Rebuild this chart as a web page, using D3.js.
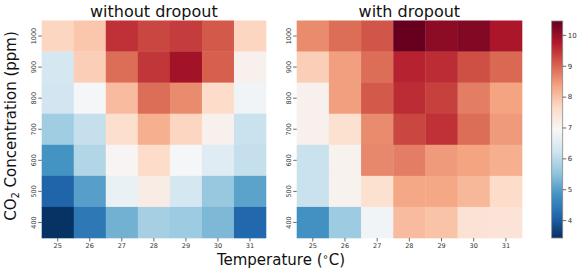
<!DOCTYPE html>
<html><head><meta charset="utf-8">
<script src="https://cdn.jsdelivr.net/npm/d3@7"></script>
<style>body{margin:0;background:#fff}svg{display:block;font-family:"DejaVu Sans",sans-serif}</style>
</head><body><svg id="c" width="581" height="274"></svg>
<script>
const temps = [25, 26, 27, 28, 29, 30, 31];
const co2 = [1000, 900, 800, 700, 600, 500, 400];
const withoutDropout = [
  [7.7, 7.9, 9.5, 9.3, 9.4, 9.1, 7.7],
  [6.3, 7.8, 8.9, 9.45, 9.9, 9.05, 7.1],
  [6.25, 6.9, 8.05, 8.9, 8.6, 7.6, 6.8],
  [5.7, 6.1, 7.55, 8.2, 7.7, 7.1, 6.15],
  [4.83, 5.9, 7.0, 7.6, 6.9, 6.5, 6.1],
  [4.1, 5.0, 6.7, 7.2, 6.3, 5.6, 5.05],
  [3.45, 4.4, 5.25, 5.75, 5.65, 5.35, 4.15]
];
const withDropout = [
  [8.6, 8.9, 9.15, 10.45, 10.1, 10.2, 9.8],
  [7.8, 8.4, 8.9, 9.65, 9.55, 9.2, 8.95],
  [7.1, 8.4, 9.1, 9.55, 9.35, 8.75, 8.35],
  [7.1, 7.5, 8.6, 9.3, 9.5, 8.9, 8.45],
  [6.15, 7.05, 8.65, 8.75, 8.45, 8.35, 8.2],
  [6.15, 7.05, 7.5, 8.3, 8.3, 8.1, 7.6],
  [4.8, 5.65, 6.8, 8.05, 7.95, 7.45, 7.4]
];
const titles = ["without dropout", "with dropout"];
const cbTicks = [4, 5, 6, 7, 8, 9, 10];
const vmin = 3.42, vmax = 10.45;

const rdbuR = ["#053061","#2166ac","#4393c3","#92c5de","#d1e5f0","#f7f7f7","#fddbc7","#f4a582","#d6604d","#b2182b","#67001f"];
const color = d3.scaleLinear()
  .domain(rdbuR.map((_, i) => vmin + (vmax - vmin) * i / (rdbuR.length - 1)))
  .range(rdbuR).interpolate(d3.interpolateRgb);

const svg = d3.select("#c");
const plotTop = 20.5, plotBottom = 238;
const panels = [{x0: 41.7, x1: 266, data: withoutDropout}, {x0: 296.7, x1: 522, data: withDropout}];
const y = d3.scaleBand().domain(co2).range([plotTop, plotBottom]);

panels.forEach((p, pi) => {
  const x = d3.scaleBand().domain(temps).range([p.x0, p.x1]);
  const g = svg.append("g");
  p.data.forEach((row, ri) => row.forEach((v, ci) => {
    g.append("rect")
      .attr("x", x(temps[ci])).attr("y", y(co2[ri]))
      .attr("width", x.bandwidth() + 0.3).attr("height", y.bandwidth() + 0.3)
      .attr("fill", color(v));
  }));
  const xa = svg.append("g").attr("transform", `translate(0,${plotBottom})`)
    .call(d3.axisBottom(x).tickSize(3.5).tickPadding(2));
  const ya = svg.append("g").attr("transform", `translate(${p.x0},0)`)
    .call(d3.axisLeft(y).tickSize(3.5).tickPadding(2));
  [xa, ya].forEach(a => {
    a.select(".domain").remove();
    a.selectAll("line").attr("stroke", "#444").attr("stroke-width", 0.8);
    a.selectAll("text").attr("fill", "#333").style("font-size", "6.5px").style("font-family", "DejaVu Sans");
  });
  ya.selectAll(".tick text")
    .attr("transform", "rotate(-90)")
    .attr("x", 0).attr("y", -5.5).attr("dy", "0")
    .attr("text-anchor", "middle");
  svg.append("text").attr("x", (p.x0 + p.x1) / 2).attr("y", 17)
    .attr("text-anchor", "middle").style("font-size", "16px").attr("fill", "#111")
    .text(titles[pi]);
});

// colorbar
const cbx = 551.7, cbw = 11, cbTop = 21, cbBot = 238;
const defs = svg.append("defs");
const grad = defs.append("linearGradient").attr("id", "cbg")
  .attr("x1", 0).attr("y1", 1).attr("x2", 0).attr("y2", 0);
rdbuR.forEach((c, i) => grad.append("stop").attr("offset", i / (rdbuR.length - 1)).attr("stop-color", c));
svg.append("rect").attr("x", cbx).attr("y", cbTop).attr("width", cbw).attr("height", cbBot - cbTop)
  .attr("fill", "url(#cbg)").attr("stroke", "#888").attr("stroke-width", 0.8);
const cy = d3.scaleLinear().domain([vmin, vmax]).range([cbBot, cbTop]);
const ca = svg.append("g").attr("transform", `translate(${cbx + cbw},0)`)
  .call(d3.axisRight(cy).tickValues(cbTicks).tickFormat(d3.format("d")).tickSize(3.5).tickPadding(1.5));
ca.select(".domain").remove();
ca.selectAll("line").attr("stroke", "#444").attr("stroke-width", 0.8);
ca.selectAll("text").attr("fill", "#333").style("font-size", "7px").style("font-family", "DejaVu Sans");

// axis labels
const yl = svg.append("text").attr("transform", "translate(16,126) rotate(-90)")
  .attr("text-anchor", "middle").style("font-size", "15px").attr("fill", "#111");
yl.append("tspan").text("CO");
yl.append("tspan").attr("dy", 3).style("font-size", "10px").text("2");
yl.append("tspan").attr("dy", -3).text(" Concentration (ppm)");

const xl = svg.append("text").attr("x", 281).attr("y", 265)
  .attr("text-anchor", "middle").style("font-size", "15px").attr("fill", "#111");
xl.append("tspan").text("Temperature (");
xl.append("tspan").attr("dy", -5).style("font-size", "10px").text("∘");
xl.append("tspan").attr("dy", 5).text("C)");
</script></body></html>
